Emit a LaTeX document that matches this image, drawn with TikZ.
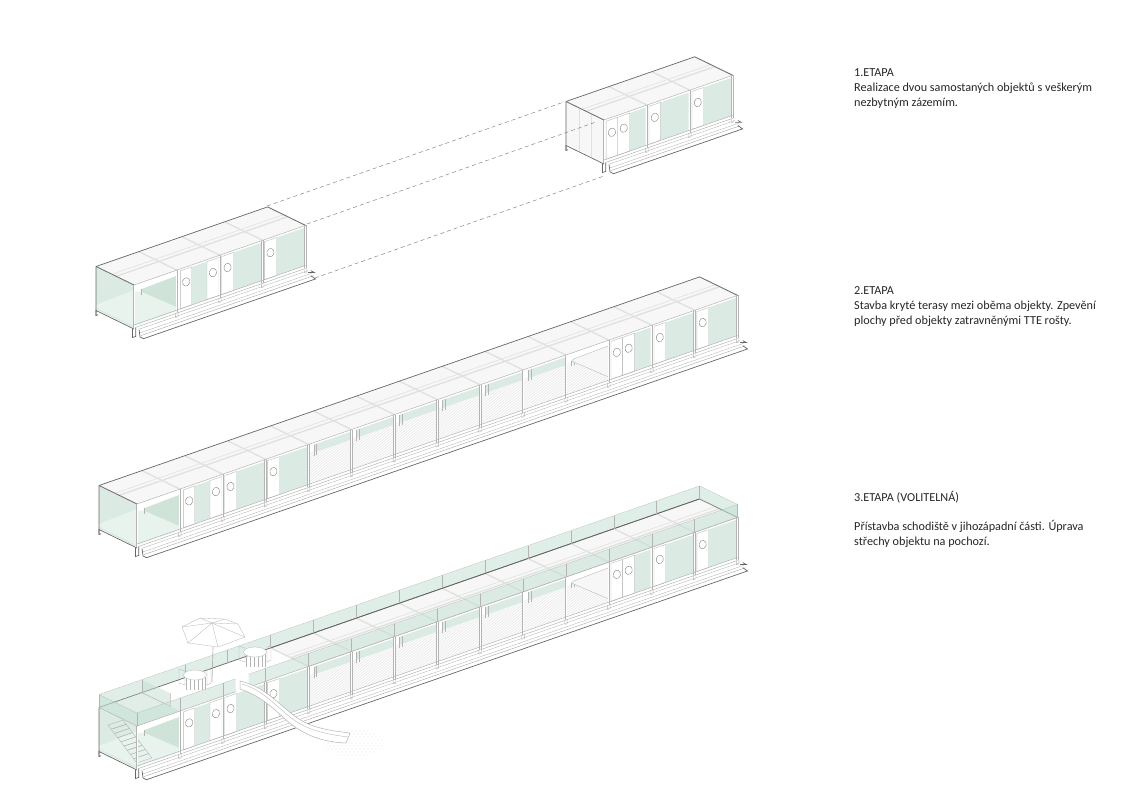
\documentclass[tikz,border=0pt]{standalone}
\usepackage{fontspec}
\setmainfont{Carlito}
\definecolor{glassgreen}{HTML}{DBEBE3}
\definecolor{palegreen}{HTML}{E8F3EE}
\definecolor{deepgreen}{HTML}{CFE3D9}
\definecolor{railgreen}{HTML}{C2DED1}
\definecolor{roofwhite}{HTML}{F6F7F6}
\definecolor{beamgrey}{HTML}{DFE1DF}
\definecolor{edgegrey}{HTML}{666666}
\definecolor{linegrey}{HTML}{B4B4B4}
\tikzset{
  iso/.style={x={(42.9pt,14.9pt)},y={(-38pt,18.5pt)},z={(0pt,-1pt)}},
  edgedark/.style={draw=edgegrey,line width=.7pt},
  edgesoft/.style={draw=linegrey,line width=.5pt},
  beam/.style={draw=beamgrey,line width=1.3pt},
  barouter/.style={draw=linegrey,line width=2.6pt},
  barinner/.style={draw=white,line width=1pt},
  doorline/.style={draw=linegrey,line width=.35pt},
  slat/.style={draw=linegrey!50,line width=.22pt},
  railpost/.style={draw=linegrey,line width=.5pt},
  railglass/.style={fill=railgreen,fill opacity=.5},
  dashline/.style={draw=edgegrey!80,line width=.5pt,dash pattern=on 4pt off 3pt},
  furniture/.style={draw=linegrey,line width=.3pt},
  etapatext/.style={anchor=north west,align=left,inner sep=0pt,text=black!85,font=\fontsize{12.2}{15}\selectfont}
}
% facade pieces, u in bays along the long side, h in px below the roof
\newcommand{\glasspane}[2]{\fill[glassgreen] ({#1},0,2)--({#2},0,2)--({#2},0,40)--({#1},0,40)--cycle;}
\newcommand{\doorleaf}[2]{
  \filldraw[fill=white,doorline] ({#1},0,2)--({#2},0,2)--({#2},0,40)--({#1},0,40)--cycle;
  \filldraw[fill=white,draw=edgegrey!80,line width=.4pt] ({(#1+#2)/2},0,15) circle[x radius=3.6pt,y radius=4.3pt,rotate=-15];
}
\newcommand{\barcol}[1]{
  \draw[barouter] (#1,0,0)--(#1,0,43);
  \draw[barinner] (#1,0,0)--(#1,0,43);
  \draw[doorline] ({#1-.03},0,43)--({#1-.03},0,47)--({#1+.03},0,47)--({#1+.03},0,43);
}
\newcommand{\openroom}{
  \fill[palegreen] (0,0,7)--(.16,0,9)--(1,0,37)--(1,0,41)--(0,0,41)--cycle;
  \fill[deepgreen] (.16,0,6.7)--(1,0,5.6)--(1,0,37)--(.16,0,9)--cycle;
  \draw[doorline] (.16,0,6.7)--(.16,0,12);
}
\newcommand{\westrooms}{
  \doorleaf{1.08}{1.35}\glasspane{1.35}{1.7}\doorleaf{1.7}{1.98}
  \doorleaf{2.04}{2.32}\glasspane{2.32}{2.97}
  \doorleaf{3.04}{3.32}\glasspane{3.32}{3.97}
}
\newcommand{\eastrooms}[1]{
  \doorleaf{#1+.05}{#1+.32}\doorleaf{#1+.32}{#1+.6}\glasspane{#1+.6}{#1+.97}
  \doorleaf{#1+1.05}{#1+1.32}\glasspane{#1+1.32}{#1+1.97}
  \doorleaf{#1+2.05}{#1+2.32}\glasspane{#1+2.32}{#1+2.97}
}
\newcommand{\slatbay}[1]{
  \begin{scope}
    \clip (#1,0,9)--({#1+1},0,9)--({#1+1},0,40)--(#1,0,40)--cycle;
    \foreach \s in {0,...,48}
      \draw[slat] ({#1-1.2+.045*\s},0,0)--({#1-1.2+.045*\s+1.117},0,40);
  \end{scope}
  \fill[glassgreen] ({#1+.12},0,2)--({#1+1},0,2)--({#1+1},0,10)--({#1+.12},0,10)--cycle;
  \draw[doorline] ({#1+.12},0,2)--({#1+.12},0,13) ({#1+.18},0,2)--({#1+.18},0,13);
}
\newcommand{\lastslatbay}[1]{
  \slatbay{#1}
  \fill[white] (#1,0,1)--({#1+1},0,1)--({#1+1},0,37)--({#1+.16},0,9)--cycle;
  \filldraw[fill=roofwhite,doorline] ({#1+.16},0,6.7)--({#1+1},0,5.6)--({#1+1},0,37)--({#1+.16},0,9)--cycle;
}
\newcommand{\glassend}{
  \fill[glassgreen] (0,0,0)--(0,1,0)--(0,1,43)--(0,0,43)--cycle;
  \fill[palegreen] (0,1,38.5)--(0,0,5)--(0,0,41)--(0,1,41)--cycle;
}
\newcommand{\paleend}{
  \fill[roofwhite] (0,0,0)--(0,1,0)--(0,1,43)--(0,0,43)--cycle;
  \draw[doorline,draw=beamgrey] (0,.33,0)--(0,.33,43) (0,.66,0)--(0,.66,43);
}
% sill, deck and feet
\newcommand{\deckstep}[1]{
  \draw[edgesoft] (0,0,40)--(#1,0,40) (.05,0,43)--(#1,0,43);
  \draw[doorline] (.1,0,46)--({#1+.05},0,46) (.14,0,50)--({#1+.14},0,50);
  \draw[edgesoft] (.16,0,53)--({#1+.18},0,53);
  \draw[edgedark] (.12,0,47)--(.14,0,54)--(.22,0,57)--({#1+.23},0,57)--({#1+.12},0,52);
  \draw[edgedark] ({#1+.12},0,47)--({#1+.2},0,50)--({#1+.06},0,48);
  \filldraw[fill=white,edgedark] (-.035,0,43)--(-.035,0,52)--(.04,0,52)--(.04,0,43);
  \draw[edgedark] (0,0,44)--(0,1,44)--(0,1,49);
  \draw[edgedark] (0,1,0)--(0,1,49)--(.05,1,49);
}
% roof from bay #1 to bay #2
\newcommand{\roofslab}[2]{
  \fill[roofwhite] (#1,0,0)--(#2,0,0)--(#2,1,0)--(#1,1,0)--cycle;
  \foreach \i in {#1,...,#2} \draw[beam] (\i,0,0)--(\i,1,0);
  \draw[beam] (#1,.47,0)--(#2,.47,0);
  \draw[beam,line width=.6pt] (#1,.58,0)--(#2,.58,0);
  \draw[edgesoft] (#1,0,0)--(#2,0,0);
  \draw[edgedark] (#1,1,0)--(#2,1,0)--(#2,0,0);
}
\newcommand{\cafetable}[2]{
  \foreach \k in {-9,-5,-1,3,7,10}
    \draw[furniture] ({#1+\k},{#2})--({#1+\k},{#2+15});
  \draw[furniture] ({#1-16},{#2-6})--({#1-16},{#2+8})--({#1-10},{#2+10}) ({#1-16},{#2-6})--({#1-10},{#2-4})--({#1-10},{#2+10});
  \draw[furniture] ({#1+12},{#2-5})--({#1+12},{#2+10})--({#1+16},{#2+8})--({#1+16},{#2-6})--cycle;
  \filldraw[fill=white,furniture] (#1,#2) ellipse (11.5 and 5);
}
\begin{document}
\begin{tikzpicture}[x=1pt,y=-1pt]
\useasboundingbox (0,0) rectangle (1139,809);

% 1.etapa, west block
\begin{scope}[shift={(134,285)},iso]
  \glassend
  \openroom
  \westrooms
  \foreach \u in {0,...,4} {\barcol{\u}}
  \roofslab{0}{4}
  \draw[edgedark] (0,0,0)--(0,1,0);
  \deckstep{4}
\end{scope}

% 1.etapa, east block
\begin{scope}[shift={(604,120)},iso]
  \paleend
  \eastrooms{0}
  \foreach \u in {0,...,3} {\barcol{\u}}
  \roofslab{0}{3}
  \draw[edgedark] (0,0,0)--(0,1,0);
  \deckstep{3}
\end{scope}

\coordinate (backa) at (267,206);
\coordinate (backb) at (564,102);
\coordinate (nearera) at (307,224);
\coordinate (nearerb) at (596,122);
\coordinate (decka) at (315,278);
\coordinate (deckb) at (604,176);
\draw[dashline] (backa)--(backb);
\draw[dashline] (nearera)--(nearerb);
\draw[dashline] (decka)--(deckb);

% 2.etapa
\begin{scope}[shift={(137,504)},iso]
  \glassend
  \openroom
  \westrooms
  \foreach \u in {4,...,9} {\slatbay{\u}}
  \lastslatbay{10}
  \eastrooms{11}
  \foreach \u in {0,...,14} {\barcol{\u}}
  \roofslab{0}{14}
  \draw[edgedark] (0,0,0)--(0,1,0);
  \deckstep{14}
\end{scope}

% 3.etapa
\begin{scope}
  \clip (354,743) ellipse (30 and 14);
  \foreach \a in {0,...,16} \foreach \b in {0,...,10}
    \fill[linegrey] ({322+4*\a+2*mod(\b,2)},{728+3*\b}) circle (.45);
\end{scope}
\begin{scope}[shift={(137,726)},iso]
  \glassend
  \openroom
  \foreach \s in {0,...,8}
    \draw[doorline] ({-.676+.0746*\s},0,{-11+5.31*\s}) -- ++(.35,0,.2) -- ++(.0746,0,5.31) -- ++(-.35,0,-.2) -- cycle;
  \westrooms
  \foreach \u in {4,...,9} {\slatbay{\u}}
  \lastslatbay{10}
  \eastrooms{11}
  \foreach \u in {0,...,14} {\barcol{\u}}
  % walkable roof
  \fill[white] (0,0,0)--(4,0,0)--(4,1,0)--(0,1,0)--cycle;
  \fill[railglass] (0,1,-13)--(14,1,-13)--(14,1,0)--(0,1,0)--cycle;
  \roofslab{4}{14}
  \draw[edgedark] (0,1,0)--(14,1,0);
  \fill[railglass] (0,0,0)--(1,0,0)--(1,1,0)--(0,1,0)--cycle;
  \fill[railglass] (1,.25,-13)--(1,1,-13)--(1,1,0)--(1,.25,0)--cycle;
  \draw[railpost] (1,.25,-13)--(1,.25,0)--(1,1,0);
  \fill[railglass] (0,0,-13)--(0,1,-13)--(0,1,0)--(0,0,0)--cycle;
  \fill[railglass] (14,0,-13)--(14,1,-13)--(14,1,0)--(14,0,0)--cycle;
  \foreach \u in {0,...,14} \draw[railpost] (\u,1,-13)--(\u,1,0);
  \draw[edgesoft] (0,1,0)--(0,0,0);
  \deckstep{14}
\end{scope}

% umbrella and tables on the roof
\coordinate (umbtop) at (212,623);
\filldraw[fill=white,furniture] (182,627)--(200,618)--(225,619)--(238,624)--(245,637)--(218,647)--(188,643)--cycle;
\foreach \c in {(182,627),(200,618),(225,619),(238,624),(245,637),(218,647),(188,643)}
  \draw[furniture] (umbtop)--\c;
\draw[furniture,line width=.7pt] (213,647)--(212,682);
\cafetable{195}{675}
\cafetable{255}{652}

\begin{scope}[shift={(137,726)},iso]
  \fill[railglass] (0,0,-13)--(2.3,0,-13)--(2.3,0,0)--(0,0,0)--cycle;
  \fill[railglass] (2.6,0,-13)--(14,0,-13)--(14,0,0)--(2.6,0,0)--cycle;
  \foreach \u in {0,...,14} \draw[railpost] (\u,0,-13)--(\u,0,0);
  \draw[edgesoft] (0,0,0)--(2.3,0,0) (2.6,0,0)--(14,0,0);
  \draw[edgesoft,line width=.2pt] (0,0,-13)--(2.3,0,-13) (2.6,0,-13)--(14,0,-13) (0,1,-13)--(14,1,-13)--(14,0,-13) (0,1,-13)--(0,0,-13);
\end{scope}

% slide
\filldraw[fill=white,edgesoft] (240,681) .. controls (262,686) and (275,700) .. (292,714) .. controls (308,727) and (325,730) .. (350,733) -- (346,743) .. controls (325,742) and (305,737) .. (285,719) .. controls (270,705) and (258,695) .. (240,689) -- cycle;
\draw[doorline] (242,684) .. controls (262,690) and (273,703) .. (290,717) .. controls (306,730) and (325,734) .. (348,737);

% texts
\node[etapatext] (etapaone) at (854,68.5) {1.ETAPA\\Realizace dvou samostaných objektů s veškerým\\nezbytným zázemím.};
\node[etapatext] (etapatwo) at (854,286.5) {2.ETAPA\\Stavba kryté terasy mezi oběma objekty. Zpevění\\plochy před objekty zatravněnými TTE rošty.};
\node[etapatext] (etapathree) at (854,491.5) {3.ETAPA (VOLITELNÁ)\\[14pt]Přístavba schodiště v jihozápadní části. Úprava\\střechy objektu na pochozí.};
\end{tikzpicture}
\end{document}
